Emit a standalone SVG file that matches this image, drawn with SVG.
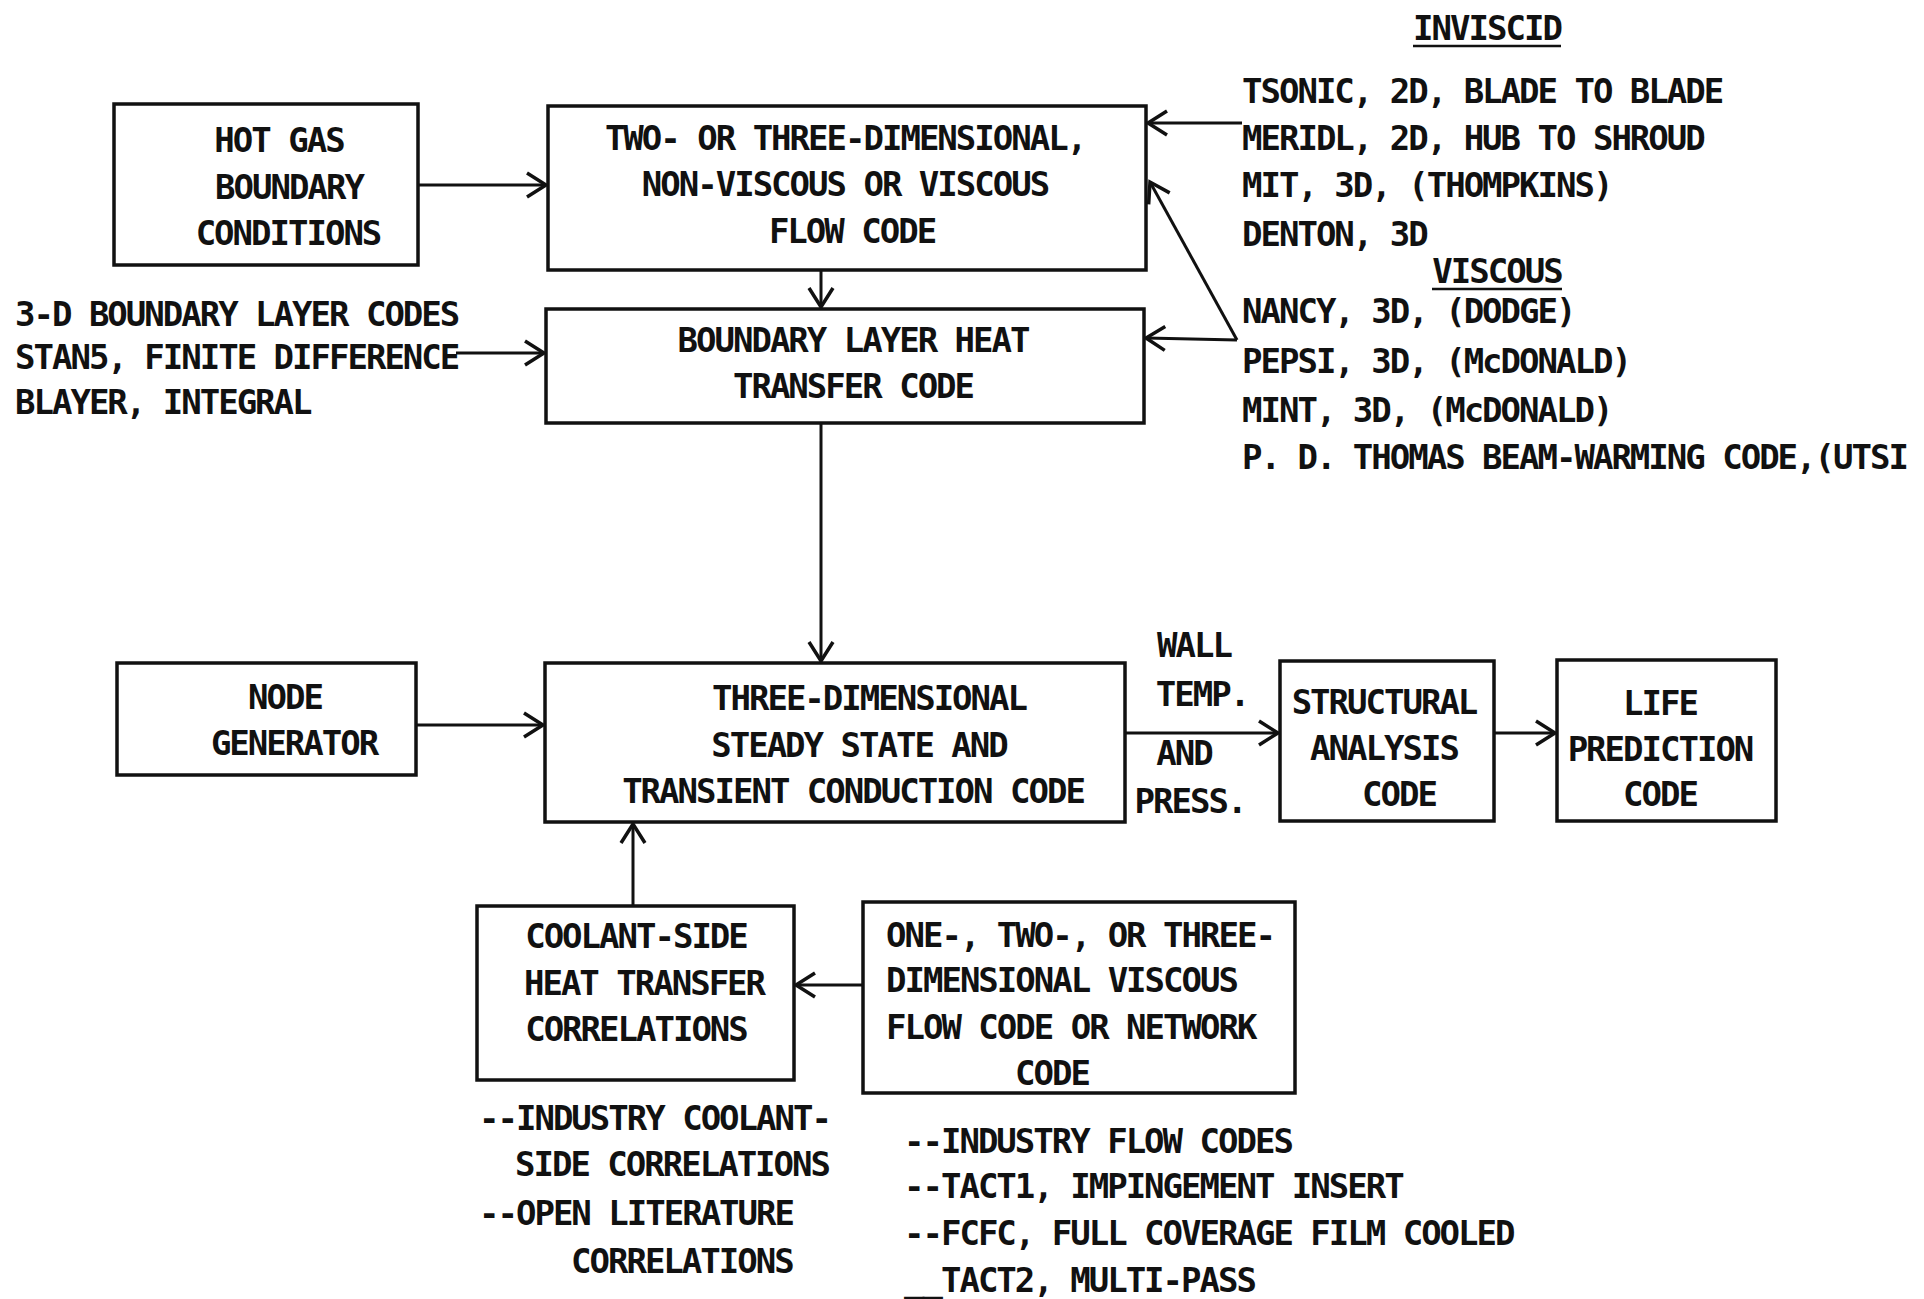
<svg xmlns="http://www.w3.org/2000/svg" width="1924" height="1299" viewBox="0 0 1924 1299">
<defs>
<style>
text{font-family:"DejaVu Sans Mono","Liberation Mono",monospace;font-size:34px;font-weight:bold;letter-spacing:-2px;fill:#111;}
.c{text-anchor:middle;}
.box{fill:#fff;stroke:#111;stroke-width:3.5;}
.ln{fill:none;stroke:#111;stroke-width:3;}
.ul{stroke:#111;stroke-width:2.5;}
</style>
<marker id="ah" markerUnits="userSpaceOnUse" markerWidth="30" markerHeight="30" viewBox="-22 -15 26 30" refX="0" refY="0" orient="auto">
<path d="M -19 -12 L 0 0 L -19 12" fill="none" stroke="#111" stroke-width="3.5"/>
</marker>
</defs>
<rect width="1924" height="1299" fill="#fff"/>

<g id="connectors">
<line class="ln" x1="418" y1="185" x2="546" y2="185" marker-end="url(#ah)"/>
<line class="ln" x1="821" y1="270" x2="821" y2="307" marker-end="url(#ah)"/>
<line class="ln" x1="456" y1="353" x2="544" y2="353" marker-end="url(#ah)"/>
<line class="ln" x1="821" y1="423" x2="821" y2="661" marker-end="url(#ah)"/>
<line class="ln" x1="1242" y1="123" x2="1148" y2="123" marker-end="url(#ah)"/>
<line class="ln" x1="1237" y1="340" x2="1150" y2="182" marker-end="url(#ah)"/>
<line class="ln" x1="1237" y1="340" x2="1146" y2="338" marker-end="url(#ah)"/>
<line class="ln" x1="416" y1="725" x2="543" y2="725" marker-end="url(#ah)"/>
<line class="ln" x1="1125" y1="733" x2="1278" y2="733" marker-end="url(#ah)"/>
<line class="ln" x1="1494" y1="733" x2="1555" y2="733" marker-end="url(#ah)"/>
<line class="ln" x1="633" y1="906" x2="633" y2="824" marker-end="url(#ah)"/>
<line class="ln" x1="863" y1="985" x2="796" y2="985" marker-end="url(#ah)"/>
</g>

<g id="hot-gas">
<rect class="box" x="114" y="104" width="304" height="161"/>
<text class="c" x="279" y="152">HOT GAS</text>
<text class="c" x="289" y="199">BOUNDARY</text>
<text class="c" x="288" y="245">CONDITIONS</text>
</g>

<g id="flow-code">
<rect class="box" x="548" y="106" width="598" height="164"/>
<text class="c" x="845" y="150">TWO- OR THREE-DIMENSIONAL,</text>
<text class="c" x="845" y="196">NON-VISCOUS OR VISCOUS</text>
<text class="c" x="852" y="243">FLOW CODE</text>
</g>

<g id="bl-heat">
<rect class="box" x="546" y="309" width="598" height="114"/>
<text class="c" x="853" y="352">BOUNDARY LAYER HEAT</text>
<text class="c" x="853" y="398">TRANSFER CODE</text>
</g>

<g id="bl-codes">
<text x="15" y="326">3-D BOUNDARY LAYER CODES</text>
<text x="15" y="369">STAN5, FINITE DIFFERENCE</text>
<text x="15" y="414">BLAYER, INTEGRAL</text>
</g>

<g id="flow-codes-list">
<text class="c" x="1487" y="40">INVISCID</text>
<line class="ul" x1="1413" y1="46" x2="1561" y2="46"/>
<text x="1242" y="103">TSONIC, 2D, BLADE TO BLADE</text>
<text x="1242" y="150">MERIDL, 2D, HUB TO SHROUD</text>
<text x="1242" y="197">MIT, 3D, (THOMPKINS)</text>
<text x="1242" y="246">DENTON, 3D</text>
<text class="c" x="1497" y="283">VISCOUS</text>
<line class="ul" x1="1432" y1="289" x2="1562" y2="289"/>
<text x="1242" y="323">NANCY, 3D, (DODGE)</text>
<text x="1242" y="373">PEPSI, 3D, (McDONALD)</text>
<text x="1242" y="422">MINT, 3D, (McDONALD)</text>
<text x="1242" y="469">P. D. THOMAS BEAM-WARMING CODE,(UTSI</text>
</g>

<g id="node-generator">
<rect class="box" x="117" y="663" width="299" height="112"/>
<text class="c" x="285" y="709">NODE</text>
<text class="c" x="294" y="755">GENERATOR</text>
</g>

<g id="conduction">
<rect class="box" x="545" y="663" width="580" height="159"/>
<text class="c" x="869" y="710">THREE-DIMENSIONAL</text>
<text class="c" x="859" y="757">STEADY STATE AND</text>
<text class="c" x="853" y="803">TRANSIENT CONDUCTION CODE</text>
</g>

<g id="wall-label">
<text class="c" x="1194" y="657">WALL</text>
<text class="c" x="1202" y="706">TEMP.</text>
<text class="c" x="1184" y="765">AND</text>
<text class="c" x="1190" y="813">PRESS.</text>
</g>

<g id="structural">
<rect class="box" x="1280" y="661" width="214" height="160"/>
<text class="c" x="1384" y="714">STRUCTURAL</text>
<text class="c" x="1384" y="760">ANALYSIS</text>
<text class="c" x="1399" y="806">CODE</text>
</g>

<g id="life">
<rect class="box" x="1557" y="660" width="219" height="161"/>
<text class="c" x="1660" y="715">LIFE</text>
<text class="c" x="1660" y="761">PREDICTION</text>
<text class="c" x="1660" y="806">CODE</text>
</g>

<g id="coolant">
<rect class="box" x="477" y="906" width="317" height="174"/>
<text class="c" x="636" y="948">COOLANT-SIDE</text>
<text class="c" x="644" y="995">HEAT TRANSFER</text>
<text class="c" x="636" y="1041">CORRELATIONS</text>
</g>

<g id="coolant-notes">
<text x="479" y="1130">--INDUSTRY COOLANT-</text>
<text x="515" y="1176">SIDE CORRELATIONS</text>
<text x="479" y="1225">--OPEN LITERATURE</text>
<text x="571" y="1273">CORRELATIONS</text>
</g>

<g id="viscous-flow">
<rect class="box" x="863" y="902" width="432" height="191"/>
<text x="886" y="947">ONE-, TWO-, OR THREE-</text>
<text x="886" y="992">DIMENSIONAL VISCOUS</text>
<text x="886" y="1039">FLOW CODE OR NETWORK</text>
<text class="c" x="1052" y="1085">CODE</text>
</g>

<g id="flow-notes">
<text x="904" y="1153">--INDUSTRY FLOW CODES</text>
<text x="904" y="1198">--TACT1, IMPINGEMENT INSERT</text>
<text x="904" y="1245">--FCFC, FULL COVERAGE FILM COOLED</text>
<text x="904" y="1292">__TACT2, MULTI-PASS</text>
</g>
</svg>
